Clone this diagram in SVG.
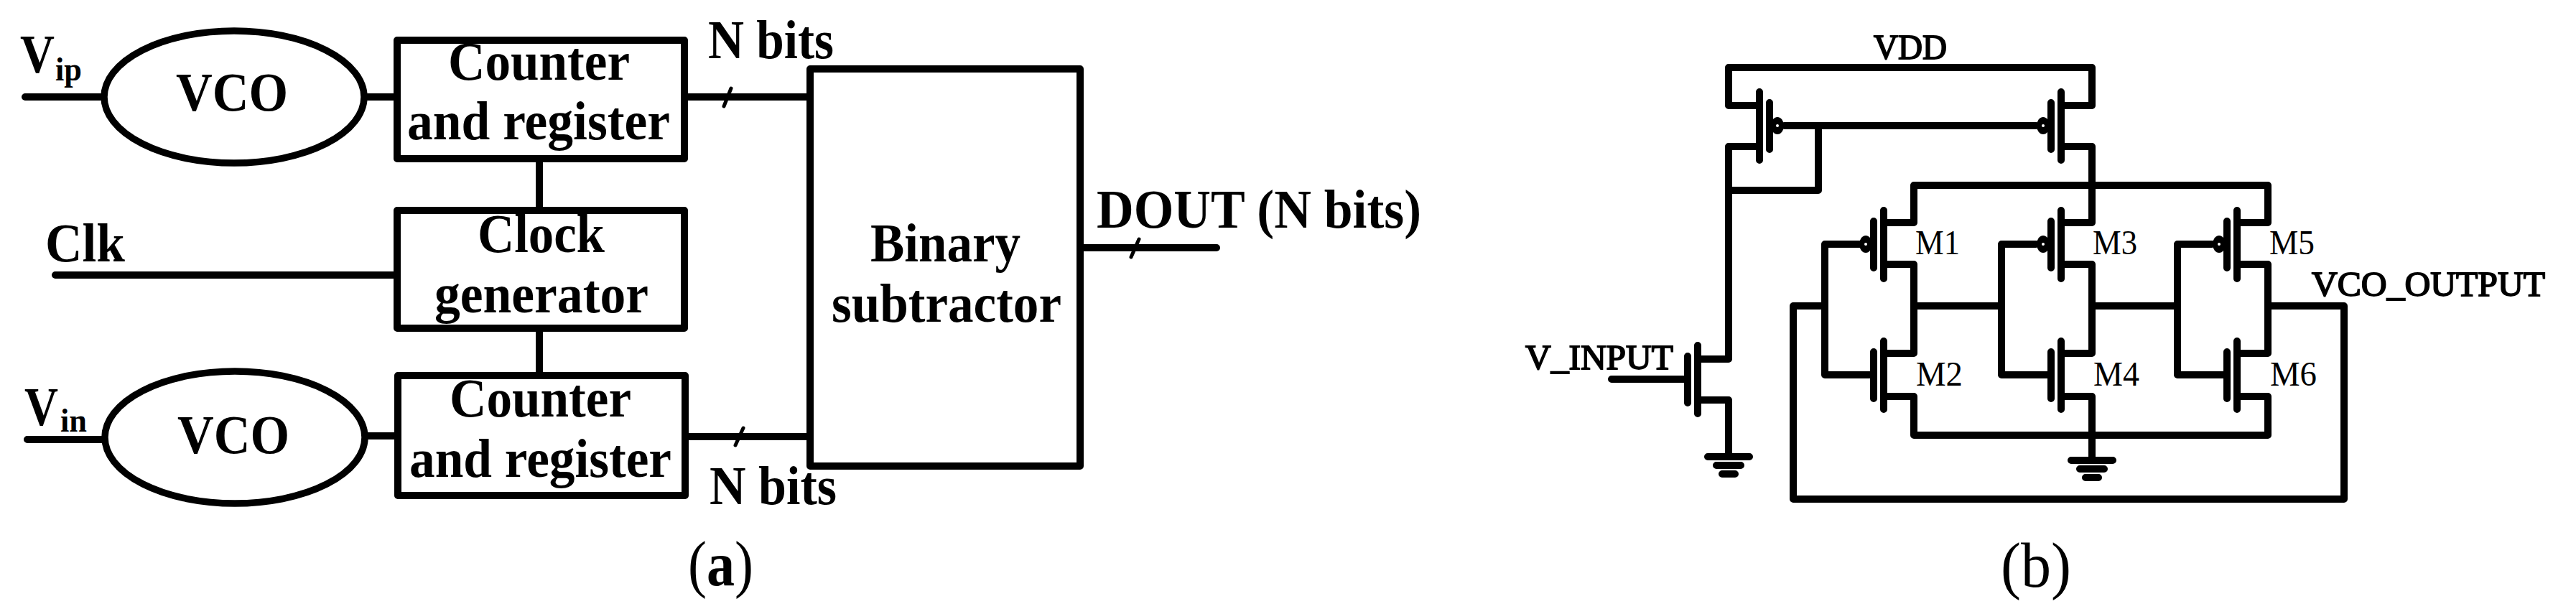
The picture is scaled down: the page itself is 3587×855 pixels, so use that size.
<svg xmlns="http://www.w3.org/2000/svg" xmlns:xlink="http://www.w3.org/1999/xlink" width="3587" height="855" viewBox="0 0 3587 855">
<style>
.w{fill:none;stroke:#000;stroke-width:10;stroke-linejoin:round;stroke-linecap:round}
.t{fill:none;stroke:#000;stroke-width:5;stroke-linecap:round}
.b{fill:none;stroke:#000;stroke-width:10;stroke-linejoin:round}
.e{fill:none;stroke:#000;stroke-width:9.5}
text{font-family:"Liberation Serif","Times New Roman",serif;fill:#000}
.h{font-weight:700;font-size:76px}
.s{font-weight:700;font-size:46px}
.r{font-size:49px;stroke:#000;stroke-width:1.8}
.m{font-size:49px}
.c{font-size:88px}
</style>
<defs>
<g id="pmos">
<path class="w" d="M0-47V48M-14-32V33"/>
<ellipse cx="-25" cy="0" rx="9" ry="12" fill="#000"/>
<circle cx="-25" cy="0" r="2" fill="#fff"/>
</g>
<g id="pmos-r">
<path class="w" d="M0-47V48M14-32V33"/>
<ellipse cx="25" cy="0" rx="9" ry="12" fill="#000"/>
<circle cx="25" cy="0" r="2" fill="#fff"/>
</g>
<path id="nmos" class="w" d="M0-47V48M-14-32V33"/>
<path id="gnd" class="w" d="M-29 0H29M-17 12H17M-9 24H9"/>
</defs>
<rect width="3587" height="855" fill="#fff"/>
<g id="connectors">
<path class="w" d="M35 135H140M512 135H553M953 135H1126M751 221V293M77 383H553M751 457V523M38 612H142M512 607H554M954 608H1128M1504 345H1694"/>
<path class="t" d="M1018 123L1008 148M1035 596L1024 620M1586 333L1575 358"/>
<path class="w" d="M2450 147H2407V94H2913V147H2870M2450 204H2407V500H2364M2485 175H2835M2532 175V265H2407M2870 204H2913V310H2870M2623 310H2665V258H3158V310H3115M2623 368H2665V492H2623M2623 552H2665V606H3158V552H3115M2870 368H2913V492H2870M2870 552H2913V641M3115 368H3158V492H3115M2665 426H2787M2913 426H3032M3158 426H3264V695H2497V426H2541M2590 340H2541V522H2609M2835 340H2787V522H2856M3080 340H3032V522H3101M2364 557H2407V636M2244 528H2350"/>
</g>
<g id="vco-p"><ellipse class="e" cx="326" cy="135" rx="181" ry="92"/><text class="h" x="245" y="154" textLength="156" lengthAdjust="spacingAndGlyphs">VCO</text></g>
<g id="vco-n"><ellipse class="e" cx="327" cy="609" rx="181" ry="92"/><text class="h" x="247" y="631" textLength="156" lengthAdjust="spacingAndGlyphs">VCO</text></g>
<g id="counter-p"><rect class="b" x="553" y="56" width="400" height="165"/><text class="h" x="624" y="111" textLength="253" lengthAdjust="spacingAndGlyphs">Counter</text><text class="h" x="567" y="194" textLength="366" lengthAdjust="spacingAndGlyphs">and register</text></g>
<g id="clock"><rect class="b" x="553" y="293" width="400" height="164"/><text class="h" x="665" y="351" textLength="177" lengthAdjust="spacingAndGlyphs">Clock</text><text class="h" x="605" y="435" textLength="298" lengthAdjust="spacingAndGlyphs">generator</text></g>
<g id="counter-n"><rect class="b" x="554" y="523" width="400" height="167"/><text class="h" x="626" y="580" textLength="253" lengthAdjust="spacingAndGlyphs">Counter</text><text class="h" x="570" y="664" textLength="365" lengthAdjust="spacingAndGlyphs">and register</text></g>
<g id="subtractor"><rect class="b" x="1128" y="96" width="376" height="553"/><text class="h" x="1212" y="364" textLength="209" lengthAdjust="spacingAndGlyphs">Binary</text><text class="h" x="1158" y="448" textLength="320" lengthAdjust="spacingAndGlyphs">subtractor</text></g>
<g id="labels-a">
<text class="h" x="28" y="101" textLength="48" lengthAdjust="spacingAndGlyphs">V</text><text class="s" x="77" y="112" textLength="37" lengthAdjust="spacingAndGlyphs">ip</text>
<text class="h" x="34" y="592" textLength="47" lengthAdjust="spacingAndGlyphs">V</text><text class="s" x="84" y="601" textLength="37" lengthAdjust="spacingAndGlyphs">in</text>
<text class="h" x="63" y="364" textLength="111" lengthAdjust="spacingAndGlyphs">Clk</text>
<text class="h" x="986" y="81" textLength="175" lengthAdjust="spacingAndGlyphs">N bits</text>
<text class="h" x="988" y="702" textLength="177" lengthAdjust="spacingAndGlyphs">N bits</text>
<text class="h" x="1527" y="317" textLength="452" lengthAdjust="spacingAndGlyphs">DOUT (N bits)</text>
<text class="c" x="958" y="815" textLength="91" lengthAdjust="spacingAndGlyphs">(<tspan font-weight="700">a</tspan>)</text>
</g>
<g id="M7"><use xlink:href="#pmos-r" href="#pmos-r" x="2450" y="175"/></g>
<g id="M8"><use xlink:href="#pmos" href="#pmos" x="2870" y="175"/></g>
<g id="M1"><use xlink:href="#pmos" href="#pmos" x="2623" y="340"/><text class="m" x="2667" y="354" textLength="62" lengthAdjust="spacingAndGlyphs">M1</text></g>
<g id="M3"><use xlink:href="#pmos" href="#pmos" x="2870" y="340"/><text class="m" x="2914" y="354" textLength="62" lengthAdjust="spacingAndGlyphs">M3</text></g>
<g id="M5"><use xlink:href="#pmos" href="#pmos" x="3115" y="340"/><text class="m" x="3160" y="354" textLength="63" lengthAdjust="spacingAndGlyphs">M5</text></g>
<g id="M2"><use xlink:href="#nmos" href="#nmos" x="2623" y="522"/><text class="m" x="2668" y="537" textLength="65" lengthAdjust="spacingAndGlyphs">M2</text></g>
<g id="M4"><use xlink:href="#nmos" href="#nmos" x="2870" y="522"/><text class="m" x="2915" y="537" textLength="64" lengthAdjust="spacingAndGlyphs">M4</text></g>
<g id="M6"><use xlink:href="#nmos" href="#nmos" x="3115" y="522"/><text class="m" x="3161" y="537" textLength="65" lengthAdjust="spacingAndGlyphs">M6</text></g>
<g id="M0"><use xlink:href="#nmos" href="#nmos" x="2364" y="528"/></g>
<g id="gnd-left"><use xlink:href="#gnd" href="#gnd" x="2407" y="636"/></g>
<g id="gnd-mid"><use xlink:href="#gnd" href="#gnd" x="2913" y="641"/></g>
<g id="labels-b">
<text class="r" x="2609" y="82" textLength="102" lengthAdjust="spacingAndGlyphs">VDD</text>
<text class="r" x="3219" y="412" textLength="325" lengthAdjust="spacingAndGlyphs">VCO_OUTPUT</text>
<text class="r" x="2124" y="514" textLength="206" lengthAdjust="spacingAndGlyphs">V_INPUT</text>
<text class="c" x="2786" y="817" textLength="98" lengthAdjust="spacingAndGlyphs">(b)</text>
</g>
</svg>
